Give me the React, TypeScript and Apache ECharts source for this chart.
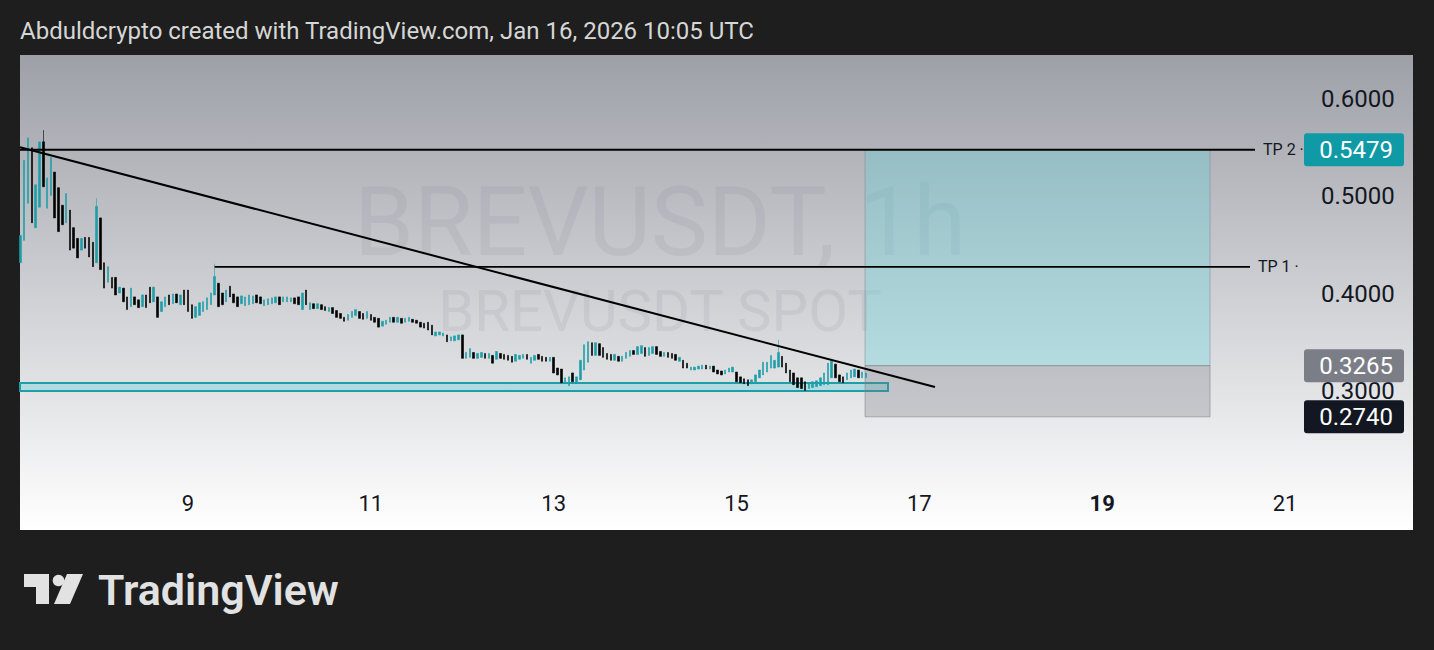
import React, { useEffect, useRef } from "react";
import * as echarts from "echarts";

// ---- data ----
const FIRST_DAY = 7; // Jan 7
const FIRST_HOUR = 4; // first hourly candle 04:00 UTC
// [open, close, low, high]
const candles: number[][] = [
  [0.432, 0.46, 0.432, 0.46], [0.455, 0.537, 0.455, 0.537], [0.493, 0.56, 0.493, 0.56], [0.55, 0.473, 0.473, 0.55],
  [0.468, 0.512, 0.468, 0.512], [0.489, 0.556, 0.489, 0.556], [0.556, 0.51, 0.51, 0.568], [0.488, 0.519, 0.488, 0.519],
  [0.501, 0.54, 0.501, 0.54], [0.525, 0.478, 0.478, 0.525],
  [0.509, 0.464, 0.464, 0.509], [0.491, 0.471, 0.471, 0.491], [0.473, 0.503, 0.473, 0.503], [0.486, 0.445, 0.445, 0.486],
  [0.468, 0.447, 0.447, 0.468], [0.457, 0.437, 0.437, 0.457], [0.445, 0.457, 0.445, 0.457], [0.458, 0.447, 0.447, 0.458],
  [0.458, 0.438, 0.438, 0.458], [0.453, 0.428, 0.428, 0.453],
  [0.432, 0.49, 0.432, 0.498], [0.478, 0.425, 0.425, 0.478], [0.432, 0.406, 0.406, 0.432], [0.412, 0.428, 0.412, 0.428],
  [0.417, 0.406, 0.406, 0.417], [0.417, 0.399, 0.399, 0.417], [0.401, 0.407, 0.401, 0.407], [0.406, 0.392, 0.392, 0.406],
  [0.397, 0.384, 0.384, 0.397], [0.387, 0.406, 0.387, 0.406],
  [0.397, 0.389, 0.389, 0.397], [0.394, 0.386, 0.386, 0.394], [0.387, 0.399, 0.387, 0.399], [0.399, 0.386, 0.386, 0.399],
  [0.407, 0.391, 0.391, 0.407], [0.392, 0.407, 0.392, 0.407], [0.397, 0.376, 0.376, 0.397], [0.382, 0.392, 0.382, 0.392],
  [0.387, 0.397, 0.387, 0.397], [0.399, 0.389, 0.389, 0.399],
  [0.39, 0.4, 0.39, 0.4], [0.4, 0.391, 0.391, 0.4], [0.389, 0.399, 0.389, 0.399], [0.404, 0.389, 0.389, 0.404],
  [0.404, 0.382, 0.382, 0.404], [0.389, 0.375, 0.375, 0.389], [0.376, 0.387, 0.376, 0.387], [0.378, 0.391, 0.378, 0.391],
  [0.382, 0.392, 0.382, 0.392], [0.384, 0.396, 0.384, 0.396],
  [0.389, 0.401, 0.389, 0.401], [0.399, 0.418, 0.399, 0.431], [0.411, 0.387, 0.387, 0.411], [0.401, 0.389, 0.389, 0.401],
  [0.392, 0.404, 0.392, 0.404], [0.408, 0.397, 0.397, 0.408], [0.4, 0.391, 0.391, 0.4], [0.397, 0.387, 0.387, 0.397],
  [0.39, 0.398, 0.39, 0.398], [0.388, 0.397, 0.388, 0.397],
  [0.389, 0.399, 0.389, 0.399], [0.39, 0.398, 0.39, 0.398], [0.399, 0.391, 0.391, 0.399], [0.397, 0.39, 0.39, 0.397],
  [0.388, 0.394, 0.388, 0.394], [0.389, 0.395, 0.389, 0.395], [0.39, 0.396, 0.39, 0.396], [0.391, 0.397, 0.391, 0.397],
  [0.397, 0.389, 0.389, 0.397], [0.392, 0.397, 0.392, 0.397],
  [0.392, 0.397, 0.392, 0.397], [0.392, 0.396, 0.392, 0.396], [0.396, 0.39, 0.39, 0.396], [0.397, 0.389, 0.389, 0.397],
  [0.384, 0.401, 0.384, 0.401], [0.404, 0.389, 0.389, 0.404], [0.384, 0.391, 0.384, 0.391], [0.39, 0.385, 0.385, 0.39],
  [0.385, 0.39, 0.385, 0.39], [0.389, 0.384, 0.384, 0.389],
  [0.387, 0.383, 0.383, 0.387], [0.382, 0.386, 0.382, 0.386], [0.386, 0.38, 0.38, 0.386], [0.383, 0.376, 0.376, 0.383],
  [0.38, 0.375, 0.375, 0.38], [0.376, 0.372, 0.372, 0.376], [0.373, 0.379, 0.373, 0.379], [0.376, 0.382, 0.376, 0.382],
  [0.378, 0.384, 0.378, 0.384], [0.382, 0.375, 0.375, 0.382],
  [0.38, 0.374, 0.374, 0.38], [0.375, 0.382, 0.375, 0.382], [0.379, 0.373, 0.373, 0.379], [0.376, 0.371, 0.371, 0.376],
  [0.375, 0.366, 0.366, 0.375], [0.367, 0.372, 0.367, 0.372], [0.369, 0.373, 0.369, 0.373], [0.371, 0.376, 0.371, 0.376],
  [0.376, 0.371, 0.371, 0.376], [0.371, 0.376, 0.371, 0.376],
  [0.375, 0.37, 0.37, 0.375], [0.371, 0.375, 0.371, 0.375], [0.372, 0.376, 0.372, 0.376], [0.374, 0.371, 0.371, 0.374],
  [0.373, 0.37, 0.37, 0.373], [0.371, 0.366, 0.366, 0.371], [0.37, 0.365, 0.365, 0.37], [0.371, 0.363, 0.363, 0.371],
  [0.368, 0.358, 0.358, 0.368], [0.357, 0.361, 0.357, 0.361],
  [0.358, 0.361, 0.358, 0.361], [0.357, 0.36, 0.357, 0.36], [0.358, 0.351, 0.351, 0.358], [0.352, 0.356, 0.352, 0.356],
  [0.352, 0.357, 0.352, 0.357], [0.353, 0.358, 0.353, 0.358], [0.358, 0.334, 0.334, 0.358], [0.334, 0.34, 0.334, 0.34],
  [0.335, 0.344, 0.335, 0.344], [0.34, 0.334, 0.334, 0.34],
  [0.334, 0.339, 0.334, 0.339], [0.335, 0.34, 0.335, 0.34], [0.339, 0.334, 0.334, 0.339], [0.334, 0.339, 0.334, 0.339],
  [0.337, 0.329, 0.329, 0.337], [0.333, 0.341, 0.333, 0.341], [0.339, 0.334, 0.334, 0.339], [0.338, 0.333, 0.333, 0.338],
  [0.337, 0.332, 0.332, 0.337], [0.336, 0.33, 0.33, 0.336],
  [0.331, 0.338, 0.331, 0.338], [0.333, 0.337, 0.333, 0.337], [0.334, 0.338, 0.334, 0.338], [0.338, 0.333, 0.333, 0.338],
  [0.329, 0.335, 0.329, 0.335], [0.332, 0.337, 0.332, 0.337], [0.338, 0.333, 0.333, 0.338], [0.336, 0.331, 0.331, 0.336],
  [0.335, 0.331, 0.331, 0.335], [0.331, 0.335, 0.331, 0.335],
  [0.335, 0.319, 0.319, 0.335], [0.324, 0.317, 0.317, 0.324], [0.323, 0.309, 0.309, 0.323], [0.308, 0.314, 0.308, 0.314],
  [0.306, 0.315, 0.306, 0.315], [0.319, 0.31, 0.31, 0.319], [0.309, 0.315, 0.309, 0.315], [0.312, 0.332, 0.312, 0.332],
  [0.322, 0.348, 0.322, 0.348], [0.33, 0.351, 0.33, 0.351],
  [0.35, 0.337, 0.337, 0.35], [0.337, 0.35, 0.337, 0.35], [0.349, 0.337, 0.337, 0.349], [0.345, 0.335, 0.335, 0.345],
  [0.339, 0.333, 0.333, 0.339], [0.338, 0.332, 0.332, 0.338], [0.332, 0.338, 0.332, 0.338], [0.336, 0.331, 0.331, 0.336],
  [0.331, 0.336, 0.331, 0.336], [0.334, 0.34, 0.334, 0.34],
  [0.336, 0.342, 0.336, 0.342], [0.342, 0.338, 0.338, 0.342], [0.338, 0.346, 0.338, 0.346], [0.339, 0.347, 0.339, 0.347],
  [0.345, 0.336, 0.336, 0.345], [0.337, 0.345, 0.337, 0.345], [0.339, 0.346, 0.339, 0.346], [0.346, 0.338, 0.338, 0.346],
  [0.341, 0.336, 0.336, 0.341], [0.336, 0.34, 0.336, 0.34],
  [0.34, 0.335, 0.335, 0.34], [0.339, 0.334, 0.334, 0.339], [0.338, 0.332, 0.332, 0.338], [0.331, 0.335, 0.331, 0.335],
  [0.332, 0.324, 0.324, 0.332], [0.329, 0.324, 0.324, 0.329], [0.322, 0.325, 0.322, 0.325], [0.322, 0.325, 0.322, 0.325],
  [0.323, 0.326, 0.323, 0.326], [0.323, 0.327, 0.323, 0.327],
  [0.327, 0.323, 0.323, 0.327], [0.323, 0.326, 0.323, 0.326], [0.326, 0.32, 0.32, 0.326], [0.322, 0.318, 0.318, 0.322],
  [0.321, 0.317, 0.317, 0.321], [0.318, 0.322, 0.318, 0.322], [0.32, 0.324, 0.32, 0.324], [0.32, 0.325, 0.32, 0.325],
  [0.32, 0.31, 0.31, 0.32], [0.315, 0.309, 0.309, 0.315],
  [0.313, 0.308, 0.308, 0.313], [0.312, 0.306, 0.306, 0.312], [0.308, 0.312, 0.308, 0.312], [0.31, 0.317, 0.31, 0.317],
  [0.314, 0.322, 0.314, 0.322], [0.317, 0.33, 0.317, 0.33], [0.32, 0.33, 0.32, 0.33], [0.324, 0.337, 0.324, 0.337],
  [0.324, 0.332, 0.324, 0.332], [0.325, 0.34, 0.325, 0.353],
  [0.336, 0.325, 0.325, 0.336], [0.329, 0.319, 0.319, 0.329], [0.322, 0.31, 0.31, 0.322], [0.319, 0.307, 0.307, 0.319],
  [0.314, 0.304, 0.304, 0.314], [0.314, 0.303, 0.303, 0.314], [0.31, 0.301, 0.301, 0.31], [0.303, 0.308, 0.303, 0.308],
  [0.304, 0.31, 0.304, 0.31], [0.305, 0.311, 0.305, 0.311],
  [0.306, 0.314, 0.306, 0.314], [0.307, 0.319, 0.307, 0.319], [0.307, 0.329, 0.307, 0.329], [0.314, 0.331, 0.314, 0.331],
  [0.328, 0.314, 0.314, 0.328], [0.317, 0.31, 0.31, 0.317], [0.315, 0.309, 0.309, 0.315], [0.312, 0.319, 0.312, 0.319],
  [0.314, 0.322, 0.314, 0.322], [0.315, 0.323, 0.315, 0.323],
  [0.322, 0.314, 0.314, 0.322], [0.314, 0.32, 0.314, 0.32], [0.314, 0.319, 0.314, 0.319],
];

const xTicks = [9, 11, 13, 15, 17, 19, 21];
const yTicks = [0.3, 0.4, 0.5, 0.6];
const xRange = [7.1622, 21.164]; // days of January
const yRange = [0.2092, 0.6451];

// drawings: [x (day), price]
const trendLine = [[7.1622, 0.5505], [17.171, 0.3045]];
const tp2Line = [[7.1622, 0.5479], [20.672, 0.5479]];
const tp1Line = [[9.2917, 0.4277], [20.617, 0.4277]];
const supportBox = [[7.1622, 0.3087], [16.657, 0.3005]];
const positionSpan = [16.406, 20.18];
const positionLevels = { target: 0.5479, entry: 0.3265, stop: 0.274 };
const badgeColors = ["#0f9aa6", "#7b7e87", "#131722"];

const TEAL = "#1e9ea8";
const TEXT = "#131722";
const FONT = "Roboto, 'Noto Sans', sans-serif";

export default function App() {
  const ref = useRef<HTMLDivElement>(null);
  useEffect(() => {
    if (!ref.current) return;
    const chart = echarts.init(ref.current, undefined, { renderer: "svg" });
    const candleData = candles.map((c, i) => [FIRST_DAY + (FIRST_HOUR + i) / 24, c[0], c[1], c[2], c[3]]);
    const baseGraphics: any[] = [
      {
        type: "rect",
        z: -10,
        silent: true,
        shape: { x: 20, y: 55, width: 1393, height: 475 },
        style: {
          fill: new echarts.graphic.LinearGradient(0, 0, 0, 1, [
            { offset: 0, color: "#9ea0a8" },
            { offset: 1, color: "#ffffff" },
          ]),
        },
      },
      {
        type: "text",
        z: -5,
        silent: true,
        x: 660,
        y: 222,
        style: {
          text: "BREVUSDT, 1h",
          fontSize: 96,
          fontFamily: FONT,
          fill: "rgba(120,124,136,0.12)",
          align: "center",
          verticalAlign: "middle",
          textAlign: "center",
          textVerticalAlign: "middle",
        },
      },
      {
        type: "text",
        z: -5,
        silent: true,
        x: 660,
        y: 311,
        style: {
          text: "BREVUSDT SPOT",
          fontSize: 58,
          fontFamily: FONT,
          fill: "rgba(120,124,136,0.12)",
          align: "center",
          verticalAlign: "middle",
          textAlign: "center",
          textVerticalAlign: "middle",
        },
      },
      {
        type: "text",
        x: 20,
        y: 31,
        silent: true,
        style: {
          text: "Abduldcrypto created with TradingView.com, Jan 16, 2026 10:05 UTC",
          fontSize: 24,
          fontFamily: FONT,
          fill: "#d6d6d6",
          align: "left",
          verticalAlign: "middle",
          textAlign: "left",
          textVerticalAlign: "middle",
        },
      },
      {
        type: "polygon",
        silent: true,
        shape: { points: [[24, 574], [49, 574], [49, 604], [36, 604], [36, 587], [24, 587]] },
        style: { fill: "#e2e2e2" },
      },
      { type: "circle", silent: true, shape: { cx: 58.5, cy: 580.5, r: 5.8 }, style: { fill: "#e2e2e2" } },
      {
        type: "polygon",
        silent: true,
        shape: { points: [[67, 574], [83, 574], [70, 604], [54, 604]] },
        style: { fill: "#e2e2e2" },
      },
      {
        type: "text",
        x: 98,
        y: 590,
        silent: true,
        style: {
          text: "TradingView",
          fontSize: 43,
          fontWeight: 600,
          fontFamily: FONT,
          fill: "#e2e2e2",
          align: "left",
          verticalAlign: "middle",
          textAlign: "left",
          textVerticalAlign: "middle",
        },
      },
    ];
    const option: any = {
      animation: false,
      backgroundColor: "transparent",
      grid: { left: 20, top: 55, width: 1280, height: 425 },
      xAxis: {
        type: "value",
        min: xRange[0],
        max: xRange[1],
        axisLine: { show: false },
        axisTick: { show: false },
        splitLine: { show: false },
        axisLabel: {
          customValues: xTicks,
          formatter: (v: number) => (v === 19 ? "{b|19}" : String(v)),
          color: TEXT,
          fontSize: 22,
          fontFamily: FONT,
          margin: 12,
          rich: { b: { fontWeight: "bold", fontSize: 22, color: TEXT, fontFamily: FONT } },
        },
      },
      yAxis: {
        type: "value",
        position: "right",
        min: yRange[0],
        max: yRange[1],
        axisLine: { show: false },
        axisTick: { show: false },
        splitLine: { show: false },
        axisLabel: {
          customValues: yTicks,
          formatter: (v: number) => v.toFixed(4),
          color: TEXT,
          fontSize: 24,
          fontFamily: FONT,
          margin: 21,
        },
      },
      graphic: baseGraphics,
      series: [
        {
          type: "line",
          z: 1,
          silent: true,
          clip: false,
          symbol: "none",
          showSymbol: false,
          data: [supportBox[0]],
          markArea: {
            silent: true,
            data: [
              [
                {
                  coord: supportBox[0],
                  itemStyle: { color: "rgba(120,210,220,0.45)", borderColor: TEAL, borderWidth: 2 },
                },
                { coord: supportBox[1] },
              ],
              [
                {
                  coord: [positionSpan[0], positionLevels.target],
                  itemStyle: { color: "rgba(87,215,223,0.3)", borderColor: "rgba(130,133,142,0.5)", borderWidth: 1 },
                },
                { coord: [positionSpan[1], positionLevels.entry] },
              ],
              [
                {
                  coord: [positionSpan[0], positionLevels.entry],
                  itemStyle: { color: "rgba(120,123,134,0.3)", borderColor: "rgba(130,133,142,0.6)", borderWidth: 1 },
                },
                { coord: [positionSpan[1], positionLevels.stop] },
              ],
            ],
          },
        },
        {
          type: "candlestick",
          z: 3,
          silent: true,
          data: candleData,
          encode: { x: 0, y: [1, 2, 3, 4] },
          barWidth: 2,
          itemStyle: {
            color: TEAL,
            color0: "#000000",
            borderColor: TEAL,
            borderColor0: "#000000",
            borderWidth: 0.6,
          },
        },
        {
          type: "line",
          z: 4,
          silent: true,
          symbol: "none",
          data: trendLine,
          lineStyle: { color: "#000000", width: 2 },
        },
        {
          type: "line",
          z: 4,
          silent: true,
          clip: false,
          symbol: "none",
          data: tp2Line,
          lineStyle: { color: "#000000", width: 1.8 },
          endLabel: { show: true, formatter: "TP 2 ·", distance: 8, color: TEXT, fontSize: 16, fontFamily: FONT },
        },
        {
          type: "line",
          z: 4,
          silent: true,
          clip: false,
          symbol: "none",
          data: tp1Line,
          lineStyle: { color: "#000000", width: 1.8 },
          endLabel: { show: true, formatter: "TP 1 ·", distance: 8, color: TEXT, fontSize: 16, fontFamily: FONT },
        },
      ],
    };
    chart.setOption(option);

    // price badges on the right scale, placed through the y axis scale
    const levels = [positionLevels.target, positionLevels.entry, positionLevels.stop];
    const badges: any[] = [];
    levels.forEach((v, i) => {
      const py = chart.convertToPixel({ yAxisIndex: 0 }, v) as number;
      badges.push({
        type: "rect",
        z: 20,
        silent: true,
        shape: { x: 1304, y: py - 16.5, width: 100, height: 33, r: 3 },
        style: { fill: badgeColors[i] },
      });
      badges.push({
        type: "text",
        z: 21,
        silent: true,
        x: 1393,
        y: py + 0.5,
        style: {
          text: v.toFixed(4),
          fontSize: 24,
          fontFamily: FONT,
          fill: "#ffffff",
          align: "right",
          verticalAlign: "middle",
          textAlign: "right",
          textVerticalAlign: "middle",
        },
      });
    });
    chart.setOption({ graphic: [...baseGraphics, ...badges] });
    return () => chart.dispose();
  }, []);
  return (
    <div
      ref={ref}
      style={{ position: "fixed", left: 0, top: 0, width: 1434, height: 650, background: "#1e1e1e" }}
    />
  );
}
